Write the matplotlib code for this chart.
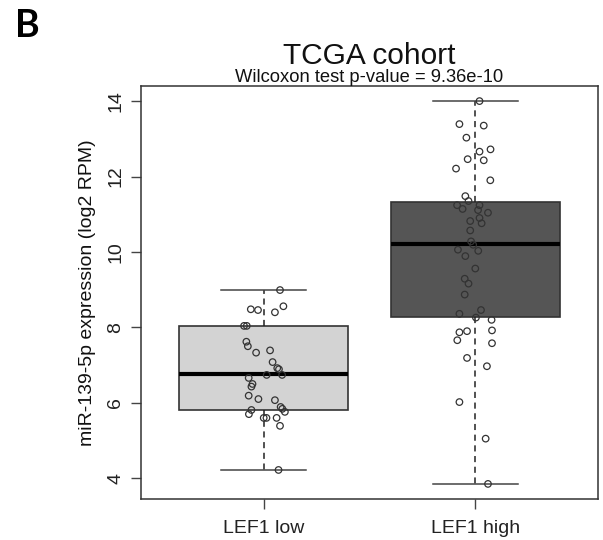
import matplotlib
matplotlib.use("Agg")
import matplotlib.pyplot as plt

plt.rcParams['font.family'] = ['Liberation Sans', 'DejaVu Sans']

categories = ["LEF1 low", "LEF1 high"]

# box statistics: lower whisker, Q1, median, Q3, upper whisker
low_stats = [4.22, 5.81, 6.76, 8.04, 8.99]
high_stats = [3.85, 8.28, 10.22, 11.33, 14.0]

# individual points (values) and their horizontal jitter offsets
low_values = [8.99, 8.48, 8.46, 8.40, 8.56, 8.04, 8.04, 7.62, 7.50, 7.33, 7.39,
              7.08, 6.92, 6.89, 6.74, 6.74, 6.66, 6.50, 6.43, 6.19, 6.10, 6.07,
              5.89, 5.84, 5.76, 5.81, 5.70, 5.60, 5.60, 5.60, 5.39, 4.22]
low_jitter = [0.077, -0.061, -0.027, 0.053, 0.093, -0.093, -0.080, -0.082, -0.075,
              -0.036, 0.030, 0.042, 0.064, 0.072, 0.014, 0.087, -0.071, -0.053,
              -0.058, -0.071, -0.025, 0.053, 0.080, 0.088, 0.100, -0.058, -0.070,
              0.000, 0.013, 0.061, 0.077, 0.070]

high_values = [14.0, 13.39, 13.35, 13.03, 12.72, 12.66, 12.46, 12.43, 12.21, 11.90,
               11.48, 11.35, 11.24, 11.14, 11.24, 11.11, 11.04, 10.90, 10.76, 10.82,
               10.57, 10.28, 10.19, 10.06, 10.03, 9.89, 9.56, 9.29, 9.16, 8.87,
               8.36, 8.46, 8.26, 8.20, 7.87, 7.90, 7.66, 7.92, 7.58, 7.19, 6.97,
               6.02, 5.05, 3.85]
high_jitter = [0.020, -0.075, 0.040, -0.042, 0.072, 0.020, -0.036, 0.040, -0.091,
               0.071, -0.047, -0.032, -0.086, -0.060, 0.020, 0.013, 0.060, 0.020,
               0.030, -0.024, -0.024, -0.020, -0.010, -0.082, 0.014, -0.047, 0.000,
               -0.050, -0.032, -0.050, -0.075, 0.027, 0.003, 0.077, -0.075, -0.039,
               -0.085, 0.079, 0.079, -0.039, 0.055, -0.075, 0.049, 0.060]

box_colors = ["#d3d3d3", "#555555"]
title = "TCGA cohort"
subtitle = "Wilcoxon test p-value = 9.36e-10"
ylabel = "miR-139-5p expression (log2 RPM)"
yticks = [4, 6, 8, 10, 12, 14]

fig = plt.figure(figsize=(6.03, 5.40), dpi=100)
ax = fig.add_axes([141/603, 1 - 499/540, (598 - 141)/603, (499 - 86)/540])

stats = []
for s, lab in zip([low_stats, high_stats], categories):
    stats.append(dict(whislo=s[0], q1=s[1], med=s[2], q3=s[3], whishi=s[4],
                      label=lab, fliers=[]))

edge = "#333333"
bp = ax.bxp(stats, positions=[1, 2], widths=0.8, patch_artist=True,
            capwidths=0.4, showfliers=False,
            boxprops=dict(edgecolor=edge, linewidth=1.2),
            medianprops=dict(color="black", linewidth=3.0, solid_capstyle="butt"),
            whiskerprops=dict(color="#222222", linewidth=1.1, linestyle=(0, (4, 3))),
            capprops=dict(color="#444444", linewidth=1.1))
for patch, c in zip(bp["boxes"], box_colors):
    patch.set_facecolor(c)

for pos, vals, jit in [(1, low_values, low_jitter), (2, high_values, high_jitter)]:
    xs = [pos + j for j in jit]
    ax.scatter(xs, vals, s=22, facecolors="none", edgecolors="#333333",
               linewidths=0.9, zorder=5)

ax.set_xlim(0.42, 2.58)
ax.set_ylim(3.45, 14.4)
ax.set_xticks([1, 2])
ax.set_xticklabels(categories, fontsize=14, color="#222222")
ax.set_yticks(yticks)
ax.set_yticklabels([str(v) for v in yticks], fontsize=14, rotation=90,
                   va="center", color="#222222")
ax.tick_params(axis="both", direction="out", length=7, width=1, color="#444444")
ax.tick_params(axis="x", pad=8)
ax.tick_params(axis="y", pad=5)
for sp in ax.spines.values():
    sp.set_color("#333333")
    sp.set_linewidth(1.1)

ax.set_ylabel(ylabel, fontsize=14, color="#111111", labelpad=8)

fig.text(369.5/603, 1 - 63.5/540, title, ha="center", va="baseline", fontsize=21.5,
         color="#111111")
fig.text(369/603, 1 - 81.5/540, subtitle, ha="center", va="baseline", fontsize=13.2,
         color="#111111")
fig.text(15/603, 1 - 37/540, "B", ha="left", va="baseline", fontsize=27,
         fontweight="bold", family=["Lato", "DejaVu Sans"], color="black")

fig.savefig("out.png", dpi=100)
